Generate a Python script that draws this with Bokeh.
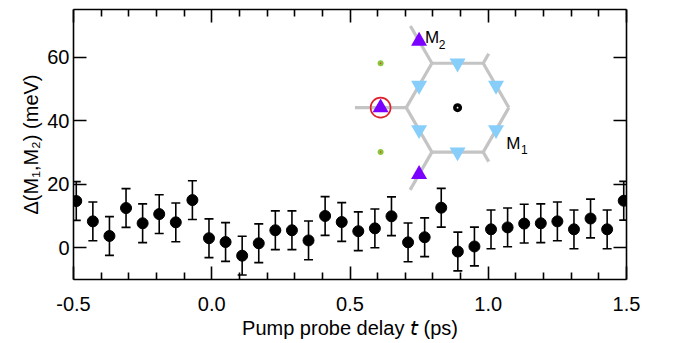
import math
from bokeh.plotting import figure
from bokeh.models import (ColumnDataSource, Whisker, TeeHead, LinearAxis, Range1d,
                          FixedTicker, Label, Title, CustomJSTickFormatter, NumeralTickFormatter)
from bokeh.embed import file_html
from bokeh.resources import INLINE

# ---------------- data ----------------
delay_ps = [-0.49, -0.43, -0.37, -0.31, -0.25, -0.19, -0.13, -0.07, -0.01, 0.05,
            0.11, 0.17, 0.23, 0.29, 0.35, 0.41, 0.47, 0.53, 0.59, 0.65,
            0.71, 0.77, 0.83, 0.89, 0.95, 1.01, 1.07, 1.13, 1.19, 1.25,
            1.31, 1.37, 1.43, 1.49]
gap_meV = [14.7, 8.3, 3.7, 12.5, 7.7, 10.6, 8.0, 15.0, 3.0, 1.8,
           -2.5, 1.4, 5.5, 5.5, 2.3, 10.0, 8.1, 5.2, 6.1, 9.9,
           1.7, 3.3, 12.6, -1.2, 0.4, 5.8, 6.4, 7.6, 7.7, 8.3,
           5.8, 9.2, 5.8, 14.8]
gap_err = [6.1, 6.1, 6.1, 6.1, 6.1, 6.1, 6.1, 6.1, 6.1, 6.1,
           6.1, 6.1, 6.1, 6.1, 6.1, 6.1, 6.1, 6.1, 6.1, 6.1,
           6.1, 6.1, 6.1, 6.1, 6.1, 6.1, 6.1, 6.1, 6.1, 6.1,
           6.1, 6.1, 6.1, 6.1]
x_ticks = [-0.5, 0.0, 0.5, 1.0, 1.5]
y_ticks = [0, 20, 40, 60]
x_title = "Pump probe delay \U0001D635 (ps)"
y_title = "\u0394(M\u2081,M\u2082) (meV)"
inset_labels = [("M", "2"), ("M", "1")]

FONT = "Liberation Sans"
X0, X1 = -0.5, 1.5
Y0, Y1 = -10, 75
FW, FH = 553, 270

p = figure(frame_width=FW, frame_height=FH,
           min_border_left=73, min_border_right=61, min_border_top=9, min_border_bottom=64,
           x_range=Range1d(X0, X1), y_range=Range1d(Y0, Y1),
           output_backend="svg", toolbar_location=None)
p.xgrid.visible = False
p.ygrid.visible = False
p.outline_line_color = None
p.background_fill_color = "white"
p.border_fill_color = "white"

minor_x = [round(X0 + 0.1 * i, 2) for i in range(21) if i % 5]


def style_axis(ax, major, minor, show_labels, standoff):
    ax.ticker = FixedTicker(ticks=major, minor_ticks=minor)
    ax.axis_line_color = "black"
    ax.axis_line_width = 1.6
    ax.major_tick_line_color = "black"
    ax.major_tick_line_width = 1.6
    ax.minor_tick_line_color = "black"
    ax.minor_tick_line_width = 1.6
    ax.major_tick_in = 13
    ax.major_tick_out = 0
    ax.minor_tick_in = 7
    ax.minor_tick_out = 0
    ax.major_label_standoff = standoff
    if show_labels:
        ax.major_label_text_font = FONT
        ax.major_label_text_font_size = "20px"
        ax.major_label_text_color = "black"
    else:
        ax.formatter = CustomJSTickFormatter(code="return ''")
        ax.major_label_text_font_size = "0px"


style_axis(p.xaxis[0], x_ticks, minor_x, True, 17)
p.xaxis[0].formatter = NumeralTickFormatter(format="0.0")
style_axis(p.yaxis[0], y_ticks, [], True, 4)
p.yaxis[0].major_label_text_align = "right"
p.yaxis[0].major_label_text_baseline = "middle"

top = LinearAxis()
style_axis(top, x_ticks, minor_x, False, 0)
p.add_layout(top, "above")
right = LinearAxis()
style_axis(right, y_ticks, [], False, 0)
p.add_layout(right, "right")

# axis titles as side-panel titles (allow shifting along the axis)
p.add_layout(Title(text=x_title, align="center", offset=24, standoff=2,
                   text_font=FONT, text_font_size="20px", text_font_style="normal",
                   text_color="black"), "below")
p.add_layout(Title(text=y_title, align="center", offset=10, standoff=6,
                   text_font=FONT, text_font_size="20px", text_font_style="normal",
                   text_color="black"), "left")

# ---------------- data marks ----------------
src = ColumnDataSource(dict(
    x=delay_ps, y=gap_meV,
    upper=[v + e for v, e in zip(gap_meV, gap_err)],
    lower=[v - e for v, e in zip(gap_meV, gap_err)]))
w = Whisker(source=src, base="x", upper="upper", lower="lower",
            line_color="black", line_width=1.6,
            upper_head=TeeHead(size=9, line_color="black", line_width=1.6),
            lower_head=TeeHead(size=9, line_color="black", line_width=1.6))
p.add_layout(w)
p.scatter("x", "y", source=src, marker="circle", size=11, color="black")

# ---------------- inset: Brillouin-zone sketch ----------------
SX = FW / (X1 - X0)
SY = FH / (Y1 - Y0)
CX, CY = 0.889, 44.1     # zone centre (data units)
R = 51.3                 # zone corner distance (px)


def pt(r, deg):
    a = math.radians(deg)
    return CX + r * math.cos(a) / SX, CY + r * math.sin(a) / SY


GRAY = "#c4c4c4"
hexv = [pt(R, a) for a in range(0, 361, 60)]
p.line([v[0] for v in hexv], [v[1] for v in hexv], line_color=GRAY, line_width=3.2)
ext = [(120, 43), (180, R), (240, 43.6), (60, 11), (300, 11)]
xs, ys = [], []
for ang, ln in ext:
    a0, a1 = pt(R, ang), pt(R + ln, ang)
    xs.append([a0[0], a1[0]])
    ys.append([a0[1], a1[1]])
p.multi_line(xs, ys, line_color=GRAY, line_width=3.2)

blue = [pt(R * math.sqrt(3) / 2, a) for a in (30, 90, 150, 210, 270, 330)]
p.scatter([b[0] for b in blue], [b[1] for b in blue], marker="inverted_triangle",
          size=16, fill_color="#87cefa", line_color=None)
purple = [pt(1.5 * R, a) for a in (120, 180, 240)]
p.scatter([q[0] for q in purple], [q[1] for q in purple], marker="triangle",
          size=16, fill_color="#7a00ff", line_color=None)
rc = pt(1.5 * R, 180)
p.scatter([rc[0]], [rc[1]], marker="circle", size=20, fill_color=None,
          line_color="#e0202a", line_width=1.6)
green = [pt(math.sqrt(3) * R, a) for a in (150, 210)]
p.scatter([g[0] for g in green], [g[1] for g in green], marker="circle",
          size=6, fill_color="#8cc63f", line_color=None)
p.scatter([g[0] for g in green], [g[1] for g in green], marker="circle",
          size=1.5, fill_color="#e03030", line_color=None)
p.scatter([CX], [CY], marker="circle", size=9, fill_color="black", line_color=None)
p.scatter([CX], [CY], marker="circle", size=1.8, fill_color="white", line_color=None)


def add_sub_label(anchor, dx_main, dy_main, dx_sub, dy_sub, main, sub):
    ax_, ay_ = anchor
    p.add_layout(Label(x=ax_ + dx_main / SX, y=ay_ - dy_main / SY, text=main,
                       text_font=FONT, text_font_size="17px", text_color="black",
                       text_baseline="alphabetic", text_align="left"))
    p.add_layout(Label(x=ax_ + dx_sub / SX, y=ay_ - dy_sub / SY, text=sub,
                       text_font=FONT, text_font_size="12px", text_color="black",
                       text_baseline="alphabetic", text_align="left"))


add_sub_label(purple[0], 6, -3.3, 19.7, 3.5, *inset_labels[0])
add_sub_label(blue[5], 10.2, 13.2, 25.0, 19.8, *inset_labels[1])

open("out.html", "w").write(file_html(p, INLINE))
